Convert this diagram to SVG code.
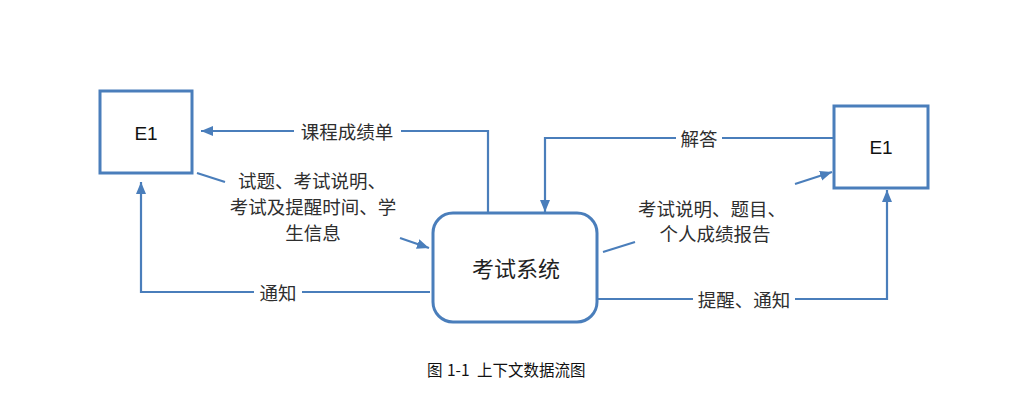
<svg xmlns="http://www.w3.org/2000/svg" width="1032" height="411" viewBox="0 0 1032 411">
  <style>
    .box { fill: #ffffff; stroke: #4a7ebb; stroke-width: 3; }
    .flow { fill: none; stroke: #4a7ebb; stroke-width: 2.2; }
    .lbl { font-family: "Noto Sans CJK SC", "Liberation Serif", serif; font-size: 18.5px; fill: #2e2e2e; }
    .ent { font-family: "Liberation Sans", "Noto Sans", sans-serif; font-size: 19px; fill: #111111; }
    .proc { font-family: "Noto Sans CJK SC", sans-serif; font-size: 22px; fill: #222222; }
    .cap { font-family: "Noto Sans CJK SC", sans-serif; font-size: 15.5px; fill: #111111; }
  </style>
  <defs>
    <marker id="arrow" markerUnits="userSpaceOnUse" markerWidth="13" markerHeight="11" refX="12" refY="5" orient="auto">
      <path d="M0,0 L12,5 L0,10 Z" fill="#4a7ebb"/>
    </marker>
  </defs>

  <!-- data flows -->
  <g id="connectors">
    <!-- 课程成绩单 -->
    <path class="flow" d="M488,213 V131 H401"/>
    <path class="flow" d="M294,131 H201" marker-end="url(#arrow)"/>
    <!-- 试题、考试说明 ... -->
    <path class="flow" d="M197,173 L225,182"/>
    <path class="flow" d="M400,238 L429,248" marker-end="url(#arrow)"/>
    <!-- 通知 -->
    <path class="flow" d="M430,292 H302"/>
    <path class="flow" d="M254,292 H141 V182" marker-end="url(#arrow)"/>
    <!-- 解答 -->
    <path class="flow" d="M834,138 H722"/>
    <path class="flow" d="M676,138 H545 V212" marker-end="url(#arrow)"/>
    <!-- 考试说明、题目、个人成绩报告 -->
    <path class="flow" d="M603,252 L635,242"/>
    <path class="flow" d="M795,184 L832,172" marker-end="url(#arrow)"/>
    <!-- 提醒、通知 -->
    <path class="flow" d="M597,299 H693"/>
    <path class="flow" d="M795,299 H887 V190" marker-end="url(#arrow)"/>
  </g>

  <!-- flow labels -->
  <g id="labels">
    <text class="lbl" x="347" y="131" text-anchor="middle" dominant-baseline="central">课程成绩单</text>
    <text class="lbl" x="312" y="180" text-anchor="middle" dominant-baseline="central">试题、考试说明、</text>
    <text class="lbl" x="313" y="206" text-anchor="middle" dominant-baseline="central">考试及提醒时间、学</text>
    <text class="lbl" x="313" y="232" text-anchor="middle" dominant-baseline="central">生信息</text>
    <text class="lbl" x="278" y="292" text-anchor="middle" dominant-baseline="central">通知</text>
    <text class="lbl" x="699" y="138" text-anchor="middle" dominant-baseline="central">解答</text>
    <text class="lbl" x="712" y="208" text-anchor="middle" dominant-baseline="central">考试说明、题目、</text>
    <text class="lbl" x="715" y="233" text-anchor="middle" dominant-baseline="central">个人成绩报告</text>
    <text class="lbl" x="744" y="299" text-anchor="middle" dominant-baseline="central">提醒、通知</text>
  </g>

  <!-- external entity, left -->
  <g id="entity-left">
    <rect class="box" x="100" y="91" width="92" height="82"/>
    <text class="ent" x="146" y="133" text-anchor="middle" dominant-baseline="central">E1</text>
  </g>

  <!-- external entity, right -->
  <g id="entity-right">
    <rect class="box" x="834" y="106" width="94" height="82"/>
    <text class="ent" x="881" y="147" text-anchor="middle" dominant-baseline="central">E1</text>
  </g>

  <!-- process -->
  <g id="process">
    <rect class="box" x="433" y="213" width="164" height="109" rx="20" ry="20"/>
    <text class="proc" x="516" y="267" text-anchor="middle" dominant-baseline="central">考试系统</text>
  </g>

  <!-- caption -->
  <text class="cap" y="369" dominant-baseline="central"><tspan x="427">图</tspan><tspan x="447">1-1</tspan><tspan x="477">上下文数据流图</tspan></text>
</svg>
